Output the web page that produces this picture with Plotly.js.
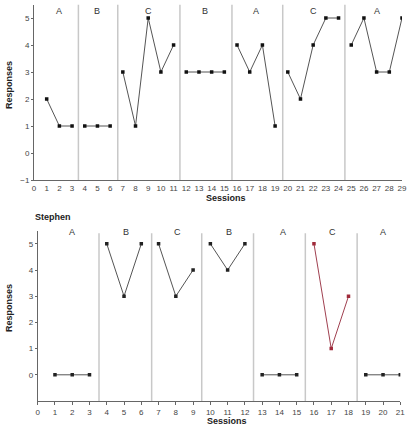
<!DOCTYPE html>
<html><head><meta charset="utf-8">
<script src="https://cdn.plot.ly/plotly-3.0.1.min.js"></script>
<style>html,body{margin:0;padding:0;background:#fff}#c{width:408px;height:427px}</style>
</head><body><div id="c"></div>
<script>
// Top panel
const topSessions = [1,2,3,4,5,6,7,8,9,10,11,12,13,14,15,16,17,18,19,20,21,22,23,24,25,26,27,28,29];
const topValues   = [2,1,1,1,1,1,3,1,5,3,4,3,3,3,3,4,3,4,1,3,2,4,5,5,4,5,3,3,5];
const topPhaseIdx = [0,0,0,1,1,1,2,2,2,2,2,3,3,3,3,4,4,4,4,5,5,5,5,5,6,6,6,6,6];
const topPhaseLabels = ["A","B","C","B","A","C","A"];
const topPhaseLabelX = [2,5,9,13.5,17.5,22,27];
const topPhaseLines = [3.5,6.6,11.5,15.6,19.6,24.5];

// Bottom panel (Stephen)
const botSessions = [1,2,3,4,5,6,7,8,9,10,11,12,13,14,15,16,17,18,19,20,21];
const botValues   = [0,0,0,5,3,5,5,3,4,5,4,5,0,0,0,5,1,3,0,0,0];
const botPhaseIdx = [0,0,0,1,1,1,2,2,2,3,3,3,4,4,4,5,5,5,6,6,6];
const botPhaseLabels = ["A","B","C","B","A","C","A"];
const botPhaseLabelX = [2,5.1,8.1,11.1,14.2,17.1,20];
const botPhaseLines = [3.55,6.6,9.5,12.5,15.5,18.5];
const botPhaseColors = ["#222","#222","#222","#222","#222","#a02a3a","#222"];
const lineColors = ["#555","#555","#555","#555","#555","#a04050","#555"];

const traces = [];
function addPhases(sess, vals, idx, xa, ya, mcols, lcols){
  const n = Math.max(...idx)+1;
  for(let p=0;p<n;p++){
    const xs=[],ys=[];
    sess.forEach((s,i)=>{ if(idx[i]===p){xs.push(s);ys.push(vals[i]);} });
    traces.push({x:xs,y:ys,xaxis:xa,yaxis:ya,type:'scatter',mode:'lines+markers',
      line:{color:lcols?lcols[p]:'#555',width:1},
      marker:{color:mcols?mcols[p]:'#111',size:3.5,symbol:'square'},
      showlegend:false,hoverinfo:'skip'});
  }
}
addPhases(topSessions, topValues, topPhaseIdx, 'x','y');
addPhases(botSessions, botValues, botPhaseIdx, 'x2','y2', botPhaseColors, lineColors);

const shapes=[];
topPhaseLines.forEach(x=>shapes.push({type:'line',xref:'x',yref:'y',x0:x,x1:x,y0:-1,y1:5.5,line:{color:'#c8c8c8',width:1.5}}));
botPhaseLines.forEach(x=>shapes.push({type:'line',xref:'x2',yref:'y2',x0:x,x1:x,y0:-1,y1:5.4,line:{color:'#c8c8c8',width:1.5}}));

const annotations=[];
const ann = (o)=>annotations.push(Object.assign({showarrow:false,xanchor:'center',yanchor:'middle'},o));
topPhaseLabels.forEach((t,i)=>ann({text:t,x:topPhaseLabelX[i],y:5.25,xref:'x',yref:'y',font:{size:9,color:'#333'}}));
botPhaseLabels.forEach((t,i)=>ann({text:t,x:botPhaseLabelX[i],y:5.45,xref:'x2',yref:'y2',font:{size:9,color:'#333'}}));
ann({text:'<b>Responses</b>',xref:'paper',yref:'paper',x:9/408,y:(427-85)/427,textangle:-90,font:{size:9,color:'#222'}});
ann({text:'<b>Sessions</b>',xref:'paper',yref:'paper',x:226/408,y:(427-198)/427,font:{size:9,color:'#222'}});
ann({text:'<b>Responses</b>',xref:'paper',yref:'paper',x:9/408,y:(427-308)/427,textangle:-90,font:{size:9,color:'#222'}});
ann({text:'<b>Sessions</b>',xref:'paper',yref:'paper',x:226.5/408,y:(427-421)/427,font:{size:9,color:'#222'}});
ann({text:'<b>Stephen</b>',xref:'paper',yref:'paper',x:33/408,xanchor:'left',y:(427-217)/427,font:{size:9,color:'#222'}});

const axBase={showgrid:false,zeroline:false,showline:true,linecolor:'#666',linewidth:1,
  tickfont:{size:8,color:'#444'},ticks:'outside',ticklen:2,tickcolor:'#666'};

const layout={
  width:408,height:427,margin:{l:0,r:0,t:0,b:0},paper_bgcolor:'#fff',plot_bgcolor:'#fff',
  font:{family:'Liberation Sans, Arial, sans-serif'},
  xaxis:Object.assign({},axBase,{domain:[34/408,402/408],range:[0,29],tickvals:topSessions.concat([0]),ticks:'',ticklen:0,anchor:'y'}),
  yaxis:Object.assign({},axBase,{domain:[(427-180)/427,(427-4.5)/427],range:[-1,5.5],tickvals:[-1,0,1,2,3,4,5],anchor:'x'}),
  xaxis2:Object.assign({},axBase,{domain:[37.7/408,400.3/408],range:[0,21],tickvals:botSessions.concat([0]),ticks:'outside',ticklen:3,anchor:'y2'}),
  yaxis2:Object.assign({},axBase,{domain:[(427-401)/427,(427-230.7)/427],range:[-1,5.5],tickvals:[0,1,2,3,4,5],anchor:'x2'}),
  shapes:shapes,annotations:annotations
};
Plotly.newPlot('c',traces,layout,{displayModeBar:false,staticPlot:true});
</script></body></html>
